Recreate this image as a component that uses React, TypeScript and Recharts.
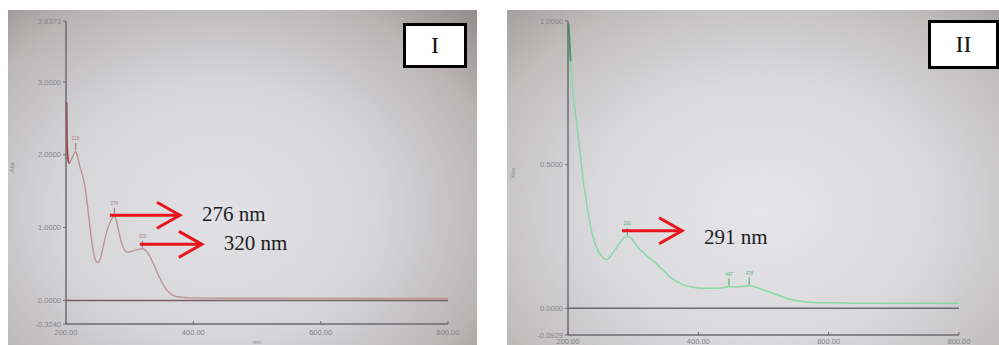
import React from 'react';
import {
  LineChart,
  Line,
  XAxis,
  YAxis,
  ReferenceLine,
  ReferenceDot,
} from 'recharts';

// Spectrum I (brown trace): wavelength in nm, absorbance
const WL_I = [
  201, 201.5, 203, 205, 208, 212, 215, 218, 222, 226, 230, 234, 238, 242, 246, 250,
  254, 258, 262, 266, 270, 273, 276, 279, 283, 287, 291, 296, 302, 308, 314, 320,
  326, 332, 338, 344, 350, 356, 362, 368, 375, 385, 400, 450, 500, 600, 700, 800,
];
const ABS_I = [
  2.72, 2.25, 1.95, 1.88, 1.93, 2.0, 2.05, 1.98, 1.83, 1.72, 1.55, 1.28, 0.98, 0.72, 0.56, 0.52,
  0.58, 0.72, 0.88, 1.0, 1.09, 1.14, 1.16, 1.1, 0.94, 0.8, 0.71, 0.66, 0.67, 0.69, 0.7, 0.71,
  0.68, 0.6, 0.49, 0.37, 0.26, 0.17, 0.11, 0.07, 0.05, 0.04, 0.035, 0.03, 0.03, 0.028, 0.027, 0.027,
];

// Spectrum II (green trace)
const WL_II = [
  201, 202, 204, 206, 209, 213, 216, 220, 223, 227, 231, 236, 241, 246, 252, 258, 263,
  268, 274, 280, 286, 291, 296, 302, 308, 315, 322, 328, 334, 340, 348, 356, 364, 372,
  382, 392, 405, 420, 435, 447, 460, 478, 490, 505, 520, 535, 550, 565, 580, 600, 650,
  700, 750, 800,
];
const ABS_II = [
  0.99, 0.95, 0.86, 0.79, 0.72, 0.65, 0.59, 0.51, 0.45, 0.39, 0.33, 0.27, 0.23, 0.2, 0.18, 0.17, 0.175,
  0.19, 0.21, 0.23, 0.245, 0.25, 0.245, 0.23, 0.21, 0.195, 0.18, 0.17, 0.16, 0.145, 0.128, 0.11, 0.097, 0.087,
  0.078, 0.073, 0.07, 0.07, 0.071, 0.075, 0.075, 0.079, 0.072, 0.06, 0.048, 0.035, 0.027, 0.022, 0.02, 0.019, 0.018,
  0.018, 0.018, 0.018,
];

const X_TICKS = [200, 400, 600, 800];
const Y_TICKS_I = [-0.324, 0, 1, 2, 3, 3.8373];
const Y_TICKS_II = [-0.0929, 0, 0.5, 1];
const PEAKS_I = [215, 276, 320];
const PEAKS_II = [291, 447, 478];

// the first few nm of each scan show in a deeper colour on the screen
const dataI = WL_I.map((nm, i) => ({ nm, abs: ABS_I[i], start: nm <= 206 ? ABS_I[i] : undefined }));
const dataII = WL_II.map((nm, i) => ({ nm, abs: ABS_II[i], start: nm <= 204 ? ABS_II[i] : undefined }));

const FRAME = '#6e6a72';
const TICK_TEXT = { fontSize: 7.5, fill: '#85858a' };
const RED = '#e8161c';

const absAt = (wl: number[], ab: number[], x: number) => ab[wl.indexOf(x)] ?? 0;

// red arrow plus the wavelength text, anchored at the arrow's tail
function arrow(label: string, len: number, textDy: number) {
  return (p: any) => {
    const { cx, cy } = p;
    const tip = cx + len;
    return (
      <g>
        <line x1={cx} y1={cy} x2={tip} y2={cy} stroke={RED} strokeWidth={3} />
        <polyline
          points={`${tip - 23},${cy - 13} ${tip},${cy} ${tip - 23},${cy + 13}`}
          fill="none"
          stroke={RED}
          strokeWidth={3}
        />
        <text
          x={tip + 22}
          y={cy + textDy}
          fontSize={21}
          fill="#1e1e1e"
          fontFamily="'Liberation Serif', 'Times New Roman', serif"
        >
          {label}
        </text>
      </g>
    );
  };
}

function peakMark(label: string, color: string) {
  return (p: any) => (
    <g>
      <line x1={p.cx} y1={p.cy - 8} x2={p.cx} y2={p.cy - 1} stroke={color} strokeWidth={1.2} />
      <text x={p.cx} y={p.cy - 11} fontSize={4.5} fill={color} textAnchor="middle">
        {label}
      </text>
    </g>
  );
}

function Box({ left, top, width, height, text }: any) {
  return (
    <div
      style={{
        position: 'absolute',
        left,
        top,
        width,
        height,
        boxSizing: 'border-box',
        border: '3px solid #000',
        background: '#fff',
        display: 'flex',
        alignItems: 'center',
        justifyContent: 'center',
        fontFamily: "'Liberation Serif', 'Times New Roman', serif",
        fontSize: 24,
        color: '#111',
      }}
    >
      {text}
    </div>
  );
}

export default function App() {
  return (
    <div
      style={{
        position: 'absolute',
        left: 0,
        top: 0,
        width: 999,
        height: 345,
        background: '#fff',
        overflow: 'hidden',
        fontFamily: "'Liberation Sans', Arial, sans-serif",
      }}
    >
      {/* photographed screens */}
      <div
        style={{
          position: 'absolute',
          left: 8,
          top: 10,
          width: 469,
          height: 335,
          background:
            'radial-gradient(ellipse 75% 85% at 45% 60%, #e2e2e6 0%, #d6d6d9 45%, #b9b5b5 80%, #948e8e 100%)',
        }}
      />
      <div
        style={{
          position: 'absolute',
          left: 507,
          top: 10,
          width: 492,
          height: 335,
          background:
            'radial-gradient(ellipse 75% 85% at 52% 60%, #e6e6ea 0%, #dadadd 45%, #c0bdbd 80%, #a29e9e 100%)',
        }}
      />

      <div style={{ position: 'absolute', left: 0, top: 0 }}>
        <LineChart width={477} height={345} data={dataI} margin={{ top: 21, right: 29, bottom: 1, left: 8 }}>
          <XAxis
            dataKey="nm"
            type="number"
            domain={[200, 800]}
            ticks={X_TICKS}
            tickFormatter={(v: number) => v.toFixed(2)}
            height={20}
            tickSize={-3}
            tickMargin={9}
            tick={TICK_TEXT}
            axisLine={{ stroke: FRAME, strokeWidth: 1.5 }}
            tickLine={{ stroke: FRAME }}
            label={{ value: 'nm', position: 'insideBottom', offset: 0, fontSize: 6, fill: '#85858a' }}
          />
          <XAxis
            xAxisId="top"
            orientation="top"
            type="number"
            domain={[200, 800]}
            ticks={[400, 600]}
            height={0}
            tick={false}
            tickSize={-3}
            axisLine={{ stroke: FRAME, strokeWidth: 1.5 }}
            tickLine={{ stroke: FRAME }}
          />
          <YAxis
            type="number"
            domain={[-0.324, 3.8373]}
            ticks={Y_TICKS_I}
            tickFormatter={(v: number) => v.toFixed(4)}
            width={58}
            tickSize={3}
            tickMargin={2}
            tick={TICK_TEXT}
            axisLine={{ stroke: FRAME, strokeWidth: 1.5 }}
            tickLine={{ stroke: FRAME }}
            label={{ value: 'Abs', angle: -90, position: 'insideLeft', offset: 4, fontSize: 6, fill: '#85858a' }}
          />
          <YAxis
            yAxisId="r"
            orientation="right"
            type="number"
            domain={[-0.324, 3.8373]}
            ticks={[1, 2, 3]}
            width={0}
            tick={false}
            tickSize={-3}
            axisLine={{ stroke: FRAME, strokeWidth: 1.5 }}
            tickLine={{ stroke: FRAME }}
          />
          <ReferenceLine y={0} stroke="#7c5c62" strokeWidth={1.5} />
          <Line
            dataKey="abs"
            type="monotone"
            stroke="#c09294"
            strokeWidth={1.4}
            dot={false}
            isAnimationActive={false}
          />
          <Line
            dataKey="start"
            type="monotone"
            stroke="#b3383c"
            strokeWidth={1.6}
            dot={false}
            isAnimationActive={false}
          />
          {PEAKS_I.map((pk) => (
            <ReferenceDot
              key={pk}
              x={pk}
              y={absAt(WL_I, ABS_I, pk)}
              shape={peakMark(String(pk), '#b07c80')}
            />
          ))}
          <ReferenceDot x={269} y={1.17} shape={arrow('276 nm', 70, 6)} />
          <ReferenceDot x={316} y={0.77} shape={arrow('320 nm', 62, 6)} />
        </LineChart>
      </div>

      <div style={{ position: 'absolute', left: 507, top: 0 }}>
        <LineChart width={492} height={345} data={dataII} margin={{ top: 21, right: 40, bottom: 0, left: 2 }}>
          <XAxis
            dataKey="nm"
            type="number"
            domain={[200, 800]}
            ticks={X_TICKS}
            tickFormatter={(v: number) => v.toFixed(2)}
            height={10}
            tickSize={-3}
            tickMargin={7}
            tick={TICK_TEXT}
            axisLine={{ stroke: FRAME, strokeWidth: 1.5 }}
            tickLine={{ stroke: FRAME }}
          />
          <XAxis
            xAxisId="top"
            orientation="top"
            type="number"
            domain={[200, 800]}
            ticks={[400, 600]}
            height={0}
            tick={false}
            tickSize={-3}
            axisLine={{ stroke: FRAME, strokeWidth: 1.5 }}
            tickLine={{ stroke: FRAME }}
          />
          <YAxis
            type="number"
            domain={[-0.0929, 1]}
            ticks={Y_TICKS_II}
            tickFormatter={(v: number) => v.toFixed(4)}
            width={59}
            tickSize={3}
            tickMargin={2}
            tick={TICK_TEXT}
            axisLine={{ stroke: FRAME, strokeWidth: 1.5 }}
            tickLine={{ stroke: FRAME }}
            label={{ value: 'Abs', angle: -90, position: 'insideLeft', offset: 4, fontSize: 6, fill: '#85858a' }}
          />
          <YAxis
            yAxisId="r"
            orientation="right"
            type="number"
            domain={[-0.0929, 1]}
            ticks={[0.5]}
            width={0}
            tick={false}
            tickSize={-3}
            axisLine={{ stroke: FRAME, strokeWidth: 1.5 }}
            tickLine={{ stroke: FRAME }}
          />
          <ReferenceLine y={0} stroke="#6a686e" strokeWidth={1.5} />
          <Line
            dataKey="abs"
            type="monotone"
            stroke="#86d8a4"
            strokeWidth={1.5}
            dot={false}
            isAnimationActive={false}
          />
          <Line
            dataKey="start"
            type="monotone"
            stroke="#3f9c60"
            strokeWidth={1.8}
            dot={false}
            isAnimationActive={false}
          />
          {PEAKS_II.map((pk) => (
            <ReferenceDot
              key={pk}
              x={pk}
              y={absAt(WL_II, ABS_II, pk)}
              shape={peakMark(String(pk), '#4fb27a')}
            />
          ))}
          <ReferenceDot x={283} y={0.27} shape={arrow('291 nm', 60, 13)} />
        </LineChart>
      </div>

      <Box left={403} top={23} width={64} height={45} text="I" />
      <Box left={928} top={20} width={71} height={49} text="II" />
    </div>
  );
}
